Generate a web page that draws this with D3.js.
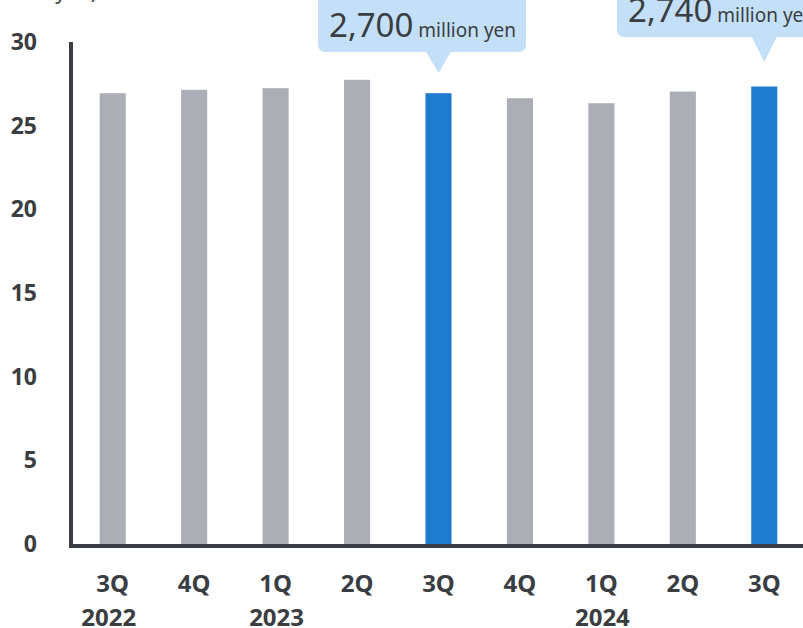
<!DOCTYPE html>
<html>
<head>
<meta charset="utf-8">
<script src="https://cdn.jsdelivr.net/npm/d3@7"></script>
<style>
  html, body { margin: 0; padding: 0; background: #fff; }
  svg { display: block; font-family: "Noto Sans", "Open Sans", sans-serif; }
</style>
</head>
<body>
<svg id="chart" width="803" height="628"></svg>
<script>
// Quarterly values in units of 100 million yen
const quarters = ["3Q", "4Q", "1Q", "2Q", "3Q", "4Q", "1Q", "2Q", "3Q"];
const values = [27.0, 27.2, 27.3, 27.8, 27.0, 26.7, 26.4, 27.1, 27.4];
const highlighted = [false, false, false, false, true, false, false, false, true];
const yearLabels = [
  { text: "2022", index: 0, shift: -4 },
  { text: "2023", index: 2, shift: 1 },
  { text: "2024", index: 6, shift: 1 }
];
const yTicks = [0, 5, 10, 15, 20, 25, 30];
const callouts = [
  { index: 4, amount: "2,700", unit: "million yen" },
  { index: 8, amount: "2,740", unit: "million yen" }
];
const unitLabel = "(100 million yen)";

const svg = d3.select("#chart");
const ink = "#3a3d42";

const x = d3.scaleBand()
  .domain(d3.range(values.length))
  .range([72, 805])
  .paddingInner(0.68)
  .paddingOuter(0.34);

const y = d3.scaleLinear().domain([0, 30]).range([545, 43]);

// unit caption (sits mostly above the visible area)
svg.append("text")
  .attr("x", 97).attr("y", -1)
  .attr("text-anchor", "end")
  .attr("font-size", 21)
  .attr("fill", ink)
  .text(unitLabel);

// bars
svg.append("g").selectAll("rect")
  .data(values)
  .join("rect")
  .attr("x", (d, i) => x(i))
  .attr("width", x.bandwidth())
  .attr("y", d => y(d))
  .attr("height", d => y(0) - y(d))
  .attr("fill", (d, i) => highlighted[i] ? "#1f7bce" : "#abaeb5");

// y axis
const yAxis = d3.axisLeft(y).tickValues(yTicks).tickSize(0).tickPadding(34);
const gy = svg.append("g").attr("transform", "translate(71,0)").call(yAxis);
gy.select(".domain").attr("stroke", ink).attr("stroke-width", 4)
  .attr("d", `M0,${y(30) - 1}V${y(0) + 3}`);
gy.selectAll("text")
  .attr("font-size", 23).attr("font-weight", 700)
  .attr("fill", ink).attr("font-family", "Noto Sans, sans-serif")
  .attr("dy", "0.28em");

// x baseline
svg.append("line")
  .attr("x1", 69).attr("x2", 803)
  .attr("y1", y(0) + 1).attr("y2", y(0) + 1)
  .attr("stroke", ink).attr("stroke-width", 4);

// quarter labels
const cx = i => x(i) + x.bandwidth() / 2;
svg.append("g").selectAll("text")
  .data(quarters)
  .join("text")
  .attr("x", (d, i) => cx(i))
  .attr("y", 592)
  .attr("text-anchor", "middle")
  .attr("font-size", 24).attr("font-weight", 700)
  .attr("fill", ink)
  .text(d => d);

// year labels
svg.append("g").selectAll("text")
  .data(yearLabels)
  .join("text")
  .attr("x", d => cx(d.index) + d.shift)
  .attr("y", 626)
  .attr("text-anchor", "middle")
  .attr("font-size", 24).attr("font-weight", 700)
  .attr("fill", ink)
  .text(d => d.text);

// callout bubbles
const bubbleFill = "#c4e0f8";
const bubbleLayout = [
  { left: 318, right: 526, bottom: 52, tipY: 73, baseline: 37 },
  { left: 617, right: 830, bottom: 37, tipY: 62, baseline: 22 }
];
callouts.forEach((c, k) => {
  const L = bubbleLayout[k];
  const tx = cx(c.index);
  const g = svg.append("g");
  g.append("rect")
    .attr("x", L.left).attr("y", -20)
    .attr("width", L.right - L.left).attr("height", L.bottom + 20)
    .attr("rx", 7)
    .attr("fill", bubbleFill);
  g.append("path")
    .attr("d", `M${tx - 13},${L.bottom - 1}L${tx + 13},${L.bottom - 1}L${tx},${L.tipY}Z`)
    .attr("fill", bubbleFill);
  const t = g.append("text")
    .attr("x", L.left + 11).attr("y", L.baseline)
    .attr("fill", ink);
  t.append("tspan").attr("font-size", 33).text(c.amount);
  t.append("tspan").attr("font-size", 19).attr("dx", 5).text(c.unit);
});
</script>
</body>
</html>
